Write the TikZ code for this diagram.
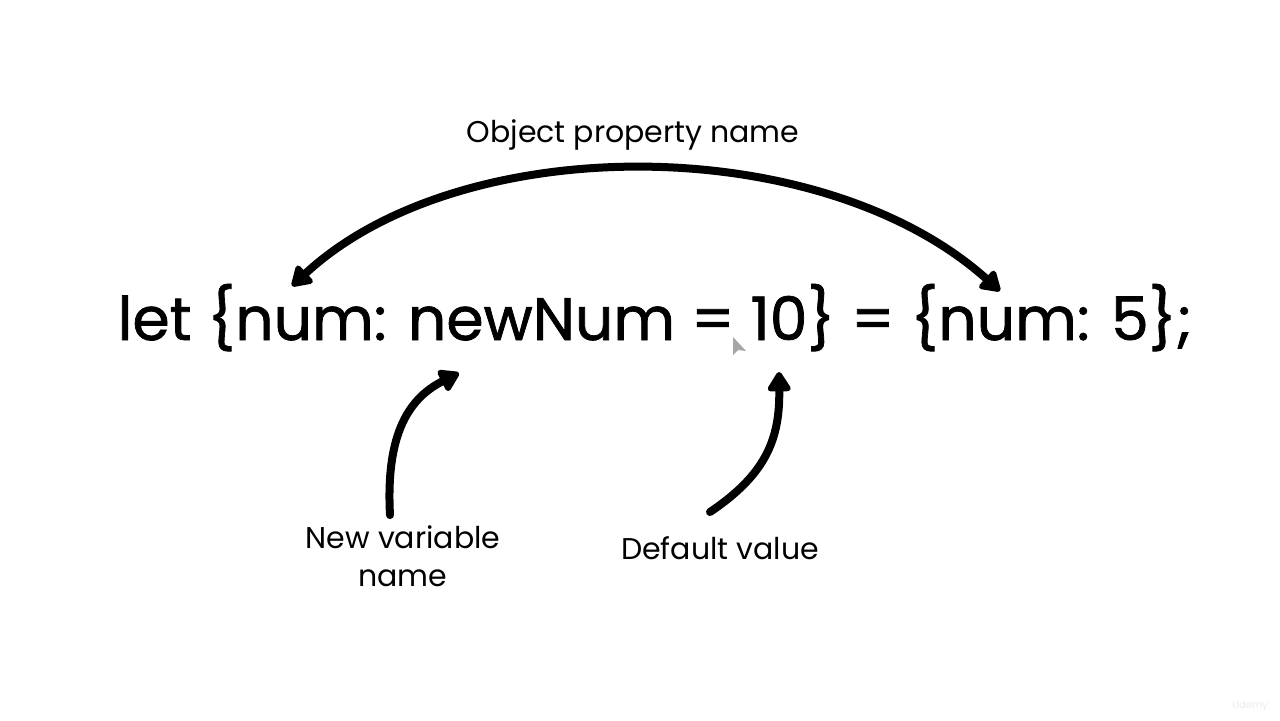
\documentclass[tikz,border=0pt]{standalone}
\usepackage{fontspec}
\setmainfont{Poppins}
\newfontfamily\codefont[FakeBold=1.2]{Poppins}
\usetikzlibrary{arrows.meta}
\tikzset{
  arr/.style={line width=4pt, line cap=round, -{Triangle[length=11pt,width=13pt,round]}},
  dblarr/.style={line width=4pt, line cap=round, {Triangle[length=11pt,width=13pt,round]}-{Triangle[length=11pt,width=13pt,round]}},
  code/.style={font=\codefont\fontsize{30}{36}\selectfont, inner sep=0pt},
  lbl/.style={font=\fontsize{15}{19}\selectfont, inner sep=0pt, align=center},
}
\begin{document}
\begin{tikzpicture}[x=0.5pt,y=-0.5pt]
\useasboundingbox (0,0) rectangle (1280,720);
\fill[white] (0,0) rectangle (1280,720);
% code line
\node[code, anchor=base] (codeline) at (655,340) {let \{num: newNum = 10\} = \{num: 5\};};
% target coordinates on the code line
\coordinate (numA) at (292,286);
\coordinate (numB) at (1000,291);
\coordinate (newnum) at (459,373);
\coordinate (ten) at (779,372);
% labels
\node[lbl] (opn) at (633,135) {Object property name};
\node[lbl] (nvn) at (403,556) {New variable\\name};
\node[lbl] (dv) at (720,548) {Default value};
% arrows
\draw[dblarr] (numA) .. controls (460,130) and (820,130) .. (numB);
\draw[arr] ([xshift=-6.5pt,yshift=5pt]nvn.north) .. controls (386,440) and (405,400) .. (newnum);
\draw[arr] ([xshift=-5pt,yshift=12pt]dv.north) .. controls (765,475) and (780,440) .. (ten);
% mouse cursor
\fill[gray!70] (733,337) -- (733,355) -- (738,350) -- (746,351) -- cycle;
% watermark
\node[font=\fontsize{5}{6}\selectfont, text=gray!15, anchor=east] (wm) at (1275,706) {Udemy};
\end{tikzpicture}
\end{document}
